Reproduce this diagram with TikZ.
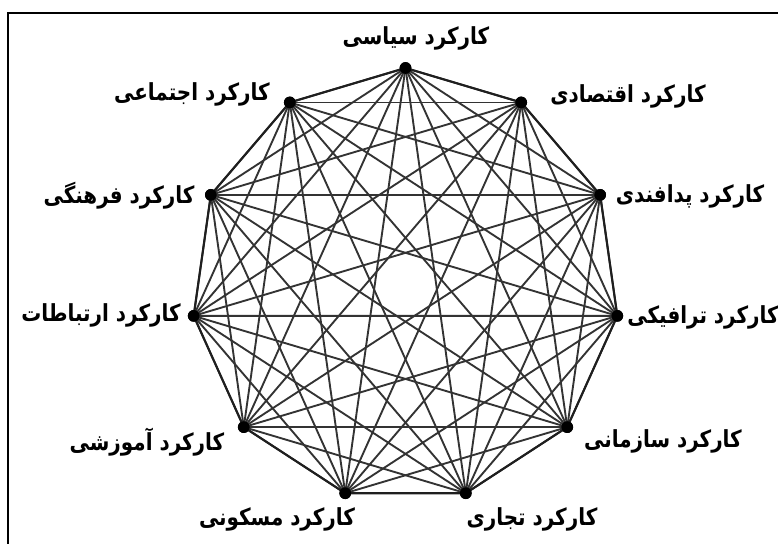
\documentclass[tikz,border=0pt]{standalone}
\usepackage{fontspec}
\newfontfamily\arabicfont[Script=Arabic]{DejaVu Sans}
\TeXXeTstate=1
\newcommand{\fatext}[1]{\scalebox{1}[1.18]{\beginR #1\endR}}

\begin{document}
\begin{tikzpicture}[
  x=0.03cm, y=-0.03cm,
  dot/.style={circle, fill=black, minimum size=10pt, inner sep=0},
  link/.style={black!80, line width=1.6pt},
  side/.style={black!88, line width=1.8pt},
  lbl/.style={font=\arabicfont\bfseries\fontsize{17}{20}\selectfont, inner sep=0}
]

%% ── Frame (cut by the page on the right and at the bottom) ─────────────────
\clip (0,0) rectangle (778,544);
\draw[line width=2.4pt] (8,13) rectangle (800,570);

%% ── The eleven functions, clockwise from the top ───────────────────────────
\foreach \i in {0,...,10}{
  \node[dot] (p\i) at ({405.5+214*cos(90-360*\i/11)}, {285-217*sin(90-360*\i/11)}) {};
}

%% ── Every function tied to every other one ─────────────────────────────────
\foreach \i in {0,...,9}{
  \pgfmathtruncatemacro{\inext}{\i+1}
  \foreach \j in {\inext,...,10}{
    \draw[link] (p\i.center) -- (p\j.center);
  }
}
% outline of the hendecagon
\draw[side] (p0.center) -- (p1.center) -- (p2.center) -- (p3.center) -- (p4.center)
  -- (p5.center) -- (p6.center) -- (p7.center) -- (p8.center) -- (p9.center)
  -- (p10.center) -- cycle;
\foreach \i in {0,...,10}{
  \node[dot] at (p\i) {};
}

%% ── Labels ─────────────────────────────────────────────────────────────────
\node[lbl] (l0)  at (416, 38)  {\fatext{کارکرد سیاسی}};
\node[lbl] (l1)  at (628, 96)  {\fatext{کارکرد اقتصادی}};
\node[lbl] (l2)  at (690,196)  {\fatext{کارکرد پدافندی}};
\node[lbl] (l3)  at (703,317)  {\fatext{کارکرد ترافیکی}};
\node[lbl] (l4)  at (663,441)  {\fatext{کارکرد سازمانی}};
\node[lbl] (l5)  at (532,519)  {\fatext{کارکرد تجاری}};
\node[lbl] (l6)  at (277,519)  {\fatext{کارکرد مسکونی}};
\node[lbl] (l7)  at (147,442)  {\fatext{کارکرد آموزشی}};
\node[lbl] (l8)  at (101,315)  {\fatext{کارکرد ارتباطات}};
\node[lbl] (l9)  at (119,196)  {\fatext{کارکرد فرهنگی}};
\node[lbl] (l10) at (192, 94)  {\fatext{کارکرد اجتماعی}};

\end{tikzpicture}
\end{document}
